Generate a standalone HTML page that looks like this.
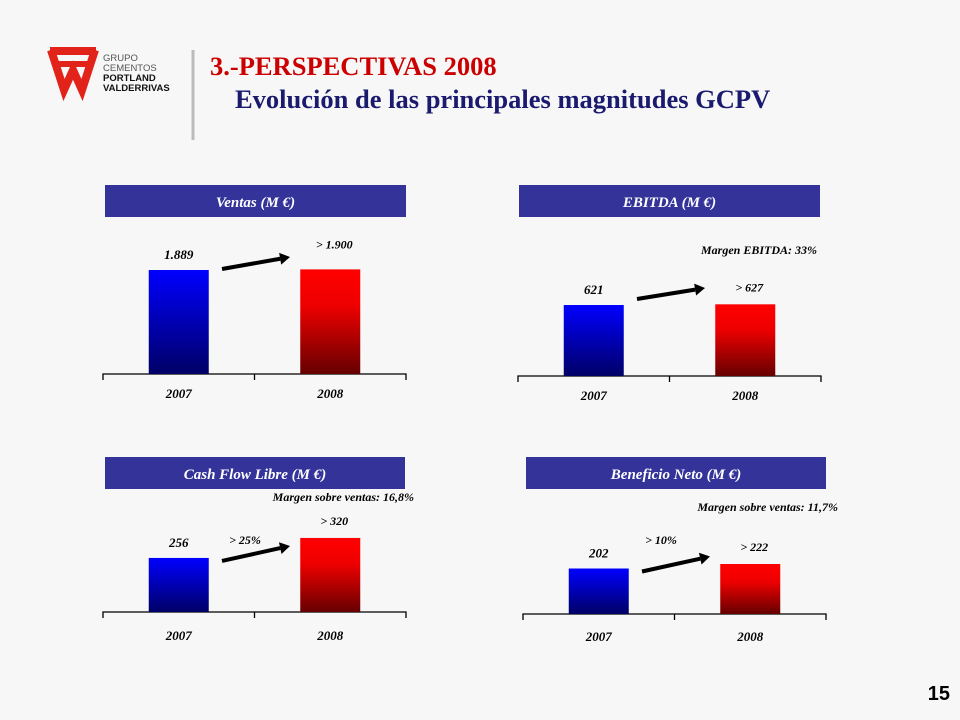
<!DOCTYPE html>
<html><head><meta charset="utf-8"><style>
body{margin:0;background:#f7f7f7;}
#slide{position:relative;width:960px;height:720px;overflow:hidden;background:#f7f7f7;font-family:"Liberation Serif",serif;}
svg{position:absolute;left:0;top:0;}
</style></head><body>
<div id="slide">
<svg id="s" width="960" height="720">
<defs>
<linearGradient id="gb" x1="0" y1="0" x2="0" y2="1"><stop offset="0" stop-color="#0000ff"/><stop offset="1" stop-color="#000066"/></linearGradient>
<linearGradient id="gr" x1="0" y1="0" x2="0" y2="1"><stop offset="0" stop-color="#ff0000"/><stop offset="0.35" stop-color="#ee0000"/><stop offset="1" stop-color="#660000"/></linearGradient>
</defs>
<g>
<path d="M50,51 H96" stroke="#e2231a" stroke-width="8" fill="none"/>
<path d="M51,50 L64,90 L73,70 L82,90 L95,50" stroke="#e2231a" stroke-width="8" fill="none" stroke-linejoin="miter"/>
<path d="M58,64 H88" stroke="#e2231a" stroke-width="6" fill="none"/>
<text x="103" y="61" font-family="Liberation Sans,sans-serif" font-size="9.5" fill="#555">GRUPO</text>
<text x="103" y="71" font-family="Liberation Sans,sans-serif" font-size="9.5" fill="#555">CEMENTOS</text>
<text x="103" y="81" font-family="Liberation Sans,sans-serif" font-size="9.5" font-weight="bold" fill="#111">PORTLAND</text>
<text x="103" y="91" font-family="Liberation Sans,sans-serif" font-size="9.5" font-weight="bold" fill="#111">VALDERRIVAS</text>
</g>
<line x1="193" y1="50" x2="193" y2="140" stroke="#bbb" stroke-width="3"/>
<text x="210" y="75" font-size="26.5" font-weight="bold" fill="#cc0000">3.-PERSPECTIVAS 2008</text>
<text x="235" y="108" font-size="26.5" font-weight="bold" fill="#1a1a6e">Evolución de las principales magnitudes GCPV</text>
<text x="950" y="700" text-anchor="end" font-family="Liberation Sans,sans-serif" font-size="20" font-weight="bold" fill="#000">15</text>
</svg>
</div>
<script>
const titles=["Ventas (M €)","EBITDA (M €)","Cash Flow Libre (M €)","Beneficio Neto (M €)"];
const categories=["2007","2008"];
const values2007=[1889,621,256,202];
const values2008=[1900,627,320,222];
const labels2007=["1.889","621","256","202"];
const labels2008=["> 1.900","> 627","> 320","> 222"];
const growthLabels=["","","> 25%","> 10%"];
const marginLabels=["","Margen EBITDA: 33%","Margen sobre ventas: 16,8%","Margen sobre ventas: 11,7%"];

const layout=[
 {hx:105,hy:185,hw:301,ax:103,ay:374,yr:394,v0:0,k:104/1889,mx:null,my:0,gx:0,gy:0},
 {hx:519,hy:185,hw:301,ax:518,ay:376,yr:396,v0:0,k:71/621,mx:817,my:254,gx:0,gy:0},
 {hx:105,hy:457,hw:300,ax:103,ay:612,yr:636,v0:83,k:0.3125,mx:414,my:501,gx:245,gy:544},
 {hx:526,hy:457,hw:300,ax:523,ay:614,yr:637,v0:0,k:50/222,mx:838,my:511,gx:661,gy:544}
];
const NS="http://www.w3.org/2000/svg";
const svg=document.getElementById('s');
function mk(tag,attrs,parent){const e=document.createElementNS(NS,tag);for(const a in attrs)e.setAttribute(a,attrs[a]);(parent||svg).appendChild(e);return e;}
function txt(x,y,s,size,anchor,fill,parent){const t=mk('text',{x:x,y:y,'font-size':size,'font-weight':'bold','font-style':'italic','text-anchor':anchor,fill:fill},parent);t.textContent=s;return t;}
titles.forEach((title,i)=>{
 const L=layout[i];
 const g=mk('g',{});
 
 
 const hb=mk('rect',{x:L.hx,y:L.hy,width:L.hw,height:32,fill:'#333399'},g);
 
 
 const ht=txt(L.hx+L.hw/2,L.hy+22,title,15,'middle','#fff',g);
 
 
 const w=303;
 const ax=mk('path',{d:`M${L.ax},${L.ay+6}V${L.ay}H${L.ax+w}V${L.ay+6}M${L.ax+w/2},${L.ay}V${L.ay+6}`,stroke:'#000','stroke-width':1.3,fill:'none'},g);
 
 
 const vals=[values2007[i],values2008[i]];
 const labs=[labels2007[i],labels2008[i]];
 const tops=[];
 vals.forEach((v,j)=>{
  const cx=L.ax+w/4+j*w/2;
  const h=Math.max(0,(v-L.v0)*L.k);
  tops.push(L.ay-h);
  const b=mk('rect',{x:cx-30,y:L.ay-h,width:60,height:h,fill:j?'url(#gr)':'url(#gb)'},g);
  
  
  const lx=j?cx+4:cx;
  const lt=txt(lx,L.ay-h-(j?(i==0?21:13):11),labs[j],j?12:13,'middle','#000',g);
  
  
  const yt=txt(cx,L.yr+4,categories[j],13,'middle','#000',g);
  
  
 });
 const x1=L.ax+119,x2=L.ax+187;
 const y1=tops[0]+(i==1?-6:i==0?-1:3),y2=tops[0]+(i==1?-17:i==0?-13:-12);
 const ar=mk('g',{},g);
 
 
 const ang=Math.atan2(y2-y1,x2-x1);
 const ex=x2-10*Math.cos(ang),ey=y2-10*Math.sin(ang);
 mk('line',{x1:x1,y1:y1,x2:ex,y2:ey,stroke:'#000','stroke-width':4},ar);
 const px=-Math.sin(ang)*6,py=Math.cos(ang)*6;
 mk('polygon',{points:`${x2},${y2} ${ex+px},${ey+py} ${ex-px},${ey-py}`,fill:'#000'},ar);
 if(marginLabels[i]){
  const m=txt(L.mx,L.my,marginLabels[i],12,'end','#000',g);
  
  
 }
 if(growthLabels[i]){
  const gt=txt(L.gx,L.gy,growthLabels[i],12,'middle','#000',g);
  
  
 }
});
</script>
</body></html>
